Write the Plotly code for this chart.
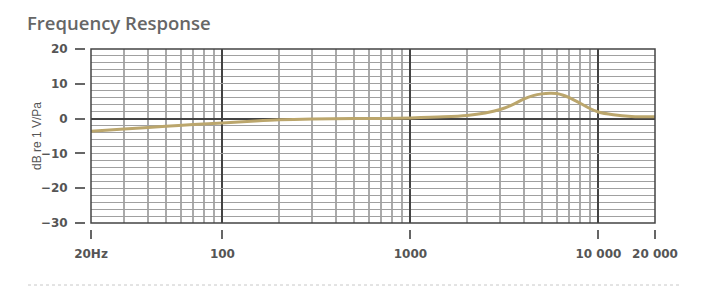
import plotly.graph_objects as go

# Data
freq_hz = [20, 30, 50, 70, 100, 150, 200, 300, 500, 700, 1000, 1500, 2000, 2500,
           3000, 3500, 4000, 4500, 5000, 5500, 6000, 6500, 7000, 8000, 9000,
           10000, 12000, 15000, 20000]
response_db = [-3.6, -3.0, -2.2, -1.7, -1.3, -0.7, -0.35, -0.1, 0.0, 0.05, 0.2, 0.5,
               0.9, 1.6, 2.6, 4.0, 5.6, 6.6, 7.1, 7.3, 7.2, 6.7, 6.0, 4.4, 2.9,
               1.9, 1.1, 0.6, 0.5]

x_tickvals = [20, 100, 1000, 10000, 20000]
x_ticktext = ["20Hz", "100", "1000", "10 000", "20 000"]
x_minor = [30, 40, 50, 60, 70, 80, 90, 200, 300, 400, 500, 600, 700, 800, 900,
           2000, 3000, 4000, 5000, 6000, 7000, 8000, 9000]
y_tickvals = [-30, -20, -10, 0, 10, 20]

W, H = 712, 299
ml, mr, mt, mb = 85, 57, 49, 70
pw, ph = W - ml - mr, H - mt - mb
gap = 6

fig = go.Figure()
fig.add_trace(go.Scatter(
    x=freq_hz, y=response_db, mode="lines",
    line=dict(color="#bba66c", width=3, shape="spline", smoothing=0.8),
    hoverinfo="skip", showlegend=False,
))

tickfont = dict(family="DejaVu Sans, sans-serif", size=12, color="#555", weight="bold")

fig.update_layout(
    width=W, height=H,
    margin=dict(l=ml, r=mr, t=mt, b=mb, pad=0),
    paper_bgcolor="white", plot_bgcolor="white",
    title=dict(
        text="Frequency Response",
        font=dict(family="Open Sans, sans-serif", size=18.5, color="#666", weight=600),
        xref="container", yref="container", x=27 / W, y=1 - 24 / H,
        xanchor="left", yanchor="middle",
    ),
    xaxis=dict(
        type="log", range=[1.30103, 4.30103],
        domain=[gap / pw, 1], anchor="free", position=0,
        tickmode="array", tickvals=x_tickvals, ticktext=x_ticktext,
        ticks="outside", ticklen=9, tickwidth=1.5, tickcolor="#666",
        tickfont=tickfont, ticklabelstandoff=5,
        showline=False, zeroline=False,
        showgrid=True, gridcolor="#444", gridwidth=1.5,
        minor=dict(tickmode="array", tickvals=x_minor, showgrid=True,
                   gridcolor="#aaaaaa", gridwidth=1.5, ticks=""),
    ),
    yaxis=dict(
        range=[-30, 20],
        domain=[gap / ph, 1], anchor="free", position=0,
        tickmode="array", tickvals=y_tickvals,
        ticks="outside", ticklen=10, tickwidth=1.5, tickcolor="#666",
        tickfont=tickfont, ticklabelstandoff=5,
        showline=False,
        showgrid=True, gridcolor="#a0a0a0", gridwidth=1.2,
        zeroline=True, zerolinecolor="#444", zerolinewidth=1.8,
        minor=dict(dtick=2, showgrid=True, gridcolor="#a0a0a0", gridwidth=1.2, ticks=""),
    ),
    annotations=[
        dict(text="dB re 1 V/Pa", textangle=-90, showarrow=False,
             xref="paper", yref="y domain", x=(37 - ml) / pw, y=0.5,
             xanchor="center", yanchor="middle",
             font=dict(family="Liberation Sans, Arial, sans-serif", size=12, color="#555")),
    ],
    shapes=[
        dict(type="rect", xref="x domain", yref="y domain", x0=0, x1=1, y0=0, y1=1,
             line=dict(color="#444", width=1.5), layer="above"),
        dict(type="line", xref="paper", yref="paper",
             x0=(28 - ml) / pw, x1=(680 - ml) / pw,
             y0=(mt + ph - 285) / ph, y1=(mt + ph - 285) / ph,
             line=dict(color="#c8c8c8", width=1, dash="dot")),
    ],
)

fig.write_html("out.html")
